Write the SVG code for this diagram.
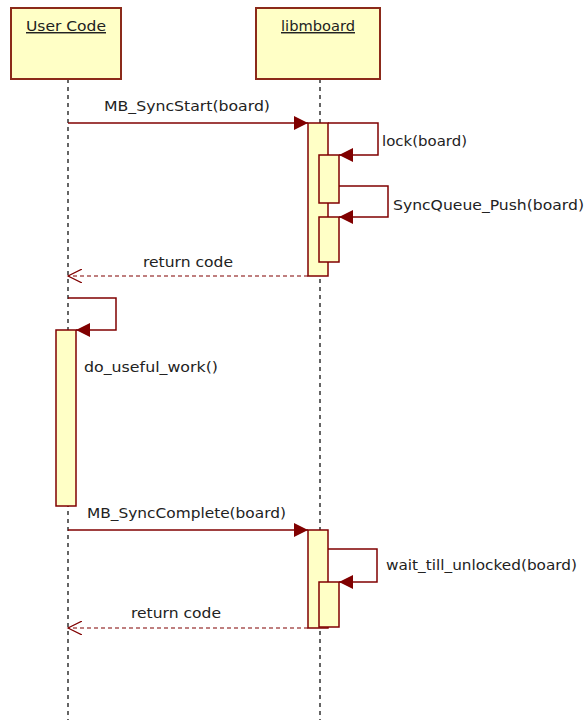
<svg xmlns="http://www.w3.org/2000/svg" width="586" height="720" viewBox="0 0 586 720">
<style>
.box{fill:#ffffc6;stroke:#8b2a1a;stroke-width:2}
.act{fill:#ffffc6;stroke:#800000;stroke-width:1.5}
.life{stroke:#000;stroke-width:1.2;stroke-dasharray:4,4;fill:none}
.msg{stroke:#800000;stroke-width:1.5;fill:none}
.ret{stroke:#800000;stroke-width:1.2;stroke-dasharray:4,3;fill:none}
text{font-family:"DejaVu Sans","Liberation Sans",Arial,sans-serif;font-size:14.5px;fill:#222}
.hd{text-decoration:underline}
</style>
<defs>
<marker id="fa" markerUnits="userSpaceOnUse" markerWidth="16" markerHeight="14" refX="14" refY="7" orient="auto">
<path d="M0,0 L14,7 L0,14 Z" fill="#800000"/>
</marker>
<marker id="oa" markerUnits="userSpaceOnUse" markerWidth="16" markerHeight="14" refX="14" refY="7" orient="auto">
<path d="M0,0 L14,7 L0,14" fill="none" stroke="#800000" stroke-width="1.2"/>
</marker>
</defs>
<rect width="586" height="720" fill="#fff"/>
<g id="user_code">
<line class="life" x1="68" y1="79" x2="68" y2="720"/>
<rect class="box" x="11" y="8" width="110" height="71"/>
<text class="hd" x="26" y="31" textLength="80" lengthAdjust="spacingAndGlyphs">User Code</text>
</g>
<g id="libmboard">
<line class="life" x1="320" y1="79" x2="320" y2="720"/>
<rect class="box" x="256" y="8" width="124" height="71"/>
<text class="hd" x="281" y="31" textLength="74" lengthAdjust="spacingAndGlyphs">libmboard</text>
</g>
<g id="activations">
<rect id="act_lib1" class="act" x="308" y="123" width="20" height="153"/>
<rect id="act_lib1a" class="act" x="319" y="155" width="20" height="48"/>
<rect id="act_lib1b" class="act" x="319" y="217" width="20" height="45"/>
<rect id="act_user" class="act" x="56" y="330" width="20" height="176"/>
<rect id="act_lib2" class="act" x="308" y="530" width="20" height="98"/>
<rect id="act_lib2a" class="act" x="319" y="582" width="20" height="45"/>
</g>
<g id="connectors">
<line class="msg" x1="68" y1="123" x2="308" y2="123" marker-end="url(#fa)"/>
<text x="104" y="111" textLength="166" lengthAdjust="spacingAndGlyphs">MB_SyncStart(board)</text>
<polyline class="msg" points="328,123 378,123 378,155 339,155" marker-end="url(#fa)"/>
<text x="382" y="146" textLength="85" lengthAdjust="spacingAndGlyphs">lock(board)</text>
<polyline class="msg" points="339,186 388,186 388,217 339,217" marker-end="url(#fa)"/>
<text x="393" y="210" textLength="191" lengthAdjust="spacingAndGlyphs">SyncQueue_Push(board)</text>
<line class="ret" x1="308" y1="276" x2="68" y2="276" marker-end="url(#oa)"/>
<text x="143" y="267" textLength="90" lengthAdjust="spacingAndGlyphs">return code</text>
<polyline class="msg" points="68,298 116,298 116,330 76,330" marker-end="url(#fa)"/>
<text x="84" y="372" textLength="134" lengthAdjust="spacingAndGlyphs">do_useful_work()</text>
<line class="msg" x1="68" y1="530" x2="308" y2="530" marker-end="url(#fa)"/>
<text x="87" y="518" textLength="199" lengthAdjust="spacingAndGlyphs">MB_SyncComplete(board)</text>
<polyline class="msg" points="328,549 377,549 377,582 339,582" marker-end="url(#fa)"/>
<text x="386" y="570" textLength="191" lengthAdjust="spacingAndGlyphs">wait_till_unlocked(board)</text>
<line class="ret" x1="308" y1="628" x2="68" y2="628" marker-end="url(#oa)"/>
<text x="131" y="618" textLength="90" lengthAdjust="spacingAndGlyphs">return code</text>
</g>
</svg>
